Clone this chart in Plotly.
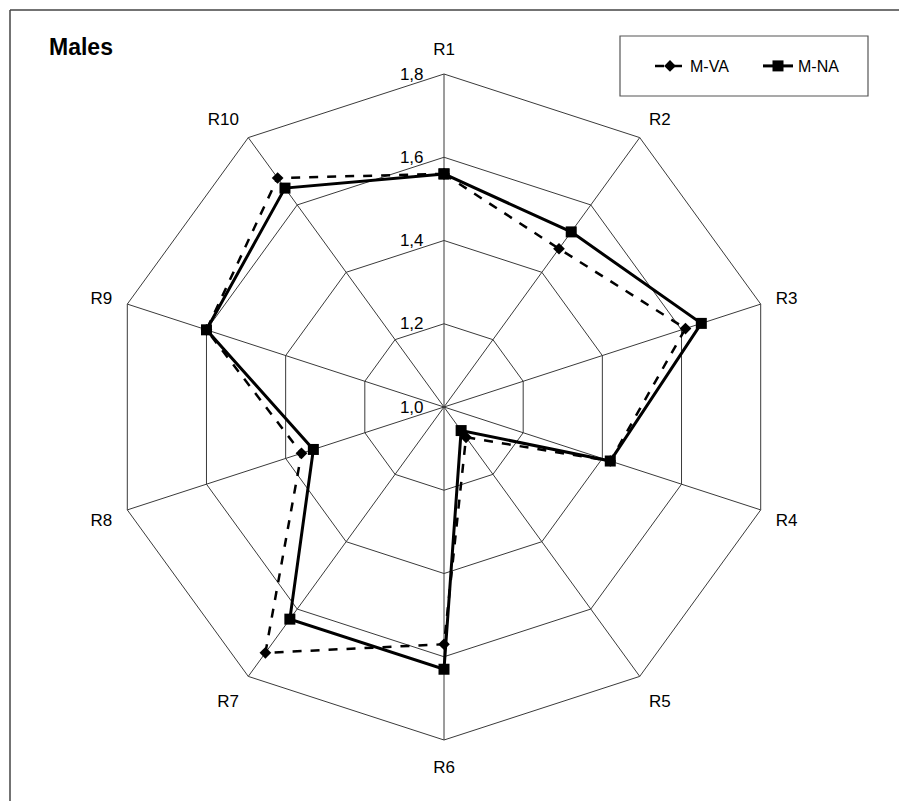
import plotly.graph_objects as go

# Radar chart: male scores on ten regions (R1..R10), two groups
regions = ["R1", "R2", "R3", "R4", "R5", "R6", "R7", "R8", "R9", "R10"]
m_va = [1.56, 1.47, 1.61, 1.42, 1.09, 1.57, 1.73, 1.36, 1.60, 1.68]
m_na = [1.56, 1.52, 1.65, 1.42, 1.07, 1.63, 1.63, 1.33, 1.60, 1.65]
radial_ticks = [1.0, 1.2, 1.4, 1.6, 1.8]

W, H = 899, 801
ML, MR, MT, MB = 111, 122, 74, 61
PW, PH = W - ML - MR, H - MT - MB


def px(x):
    return (x - ML) / PW


def py(y):
    return 1 - (y - MT) / PH


def closed(vals):
    return vals + vals[:1]


theta = closed(regions)

fig = go.Figure()
fig.add_trace(go.Scatterpolar(
    r=closed(m_va), theta=theta, name="M-VA", mode="lines+markers",
    line=dict(color="black", width=2.5, dash="dash"),
    marker=dict(symbol="diamond", size=9, color="black"),
))
fig.add_trace(go.Scatterpolar(
    r=closed(m_na), theta=theta, name="M-NA", mode="lines+markers",
    line=dict(color="black", width=3),
    marker=dict(symbol="square", size=11, color="black"),
))

grid = "#3a3a3a"
fig.update_layout(
    width=W, height=H,
    margin=dict(l=ML, r=MR, t=MT, b=MB, autoexpand=False),
    paper_bgcolor="white", plot_bgcolor="white",
    separators=",.",
    font=dict(family="Liberation Sans, Arial, sans-serif", color="black", size=17),
    polar=dict(
        bgcolor="white",
        gridshape="linear",
        domain=dict(x=[0, 1], y=[0, 1]),
        radialaxis=dict(
            range=[1.0, 1.8], tickvals=radial_ticks, tickformat=".1f",
            angle=90, tickangle=90, side="counterclockwise",
            showline=False, ticks="outside", ticklen=14, tickcolor="rgba(0,0,0,0)",
            gridcolor=grid, gridwidth=1,
            tickfont=dict(size=17),
        ),
        angularaxis=dict(
            categoryorder="array", categoryarray=regions,
            direction="clockwise", rotation=90,
            showline=True, linecolor=grid, linewidth=1,
            gridcolor=grid, gridwidth=1,
            ticks="outside", ticklen=12, tickcolor="rgba(0,0,0,0)",
            tickfont=dict(size=17),
        ),
    ),
    showlegend=True,
    legend=dict(
        orientation="h", x=px(650), y=py(66), xanchor="left", yanchor="middle",
        font=dict(size=16), bgcolor="rgba(0,0,0,0)", borderwidth=0,
        itemwidth=30, entrywidth=63, entrywidthmode="pixels",
    ),
    annotations=[dict(
        text="<b>Males</b>", xref="paper", yref="paper",
        x=px(47), y=py(47), xanchor="left", yanchor="middle",
        showarrow=False, font=dict(size=23),
    )],
    shapes=[
        dict(type="rect", xref="paper", yref="paper",
             x0=px(620), x1=px(868), y0=py(36), y1=py(96),
             line=dict(color="#555555", width=1.2)),
        dict(type="line", xref="paper", yref="paper",
             x0=px(10), x1=px(899), y0=py(10), y1=py(10),
             line=dict(color="#444444", width=1.5)),
        dict(type="line", xref="paper", yref="paper",
             x0=px(10), x1=px(10), y0=py(10), y1=py(801),
             line=dict(color="#444444", width=1.5)),
    ],
)

fig.write_html("out.html")
